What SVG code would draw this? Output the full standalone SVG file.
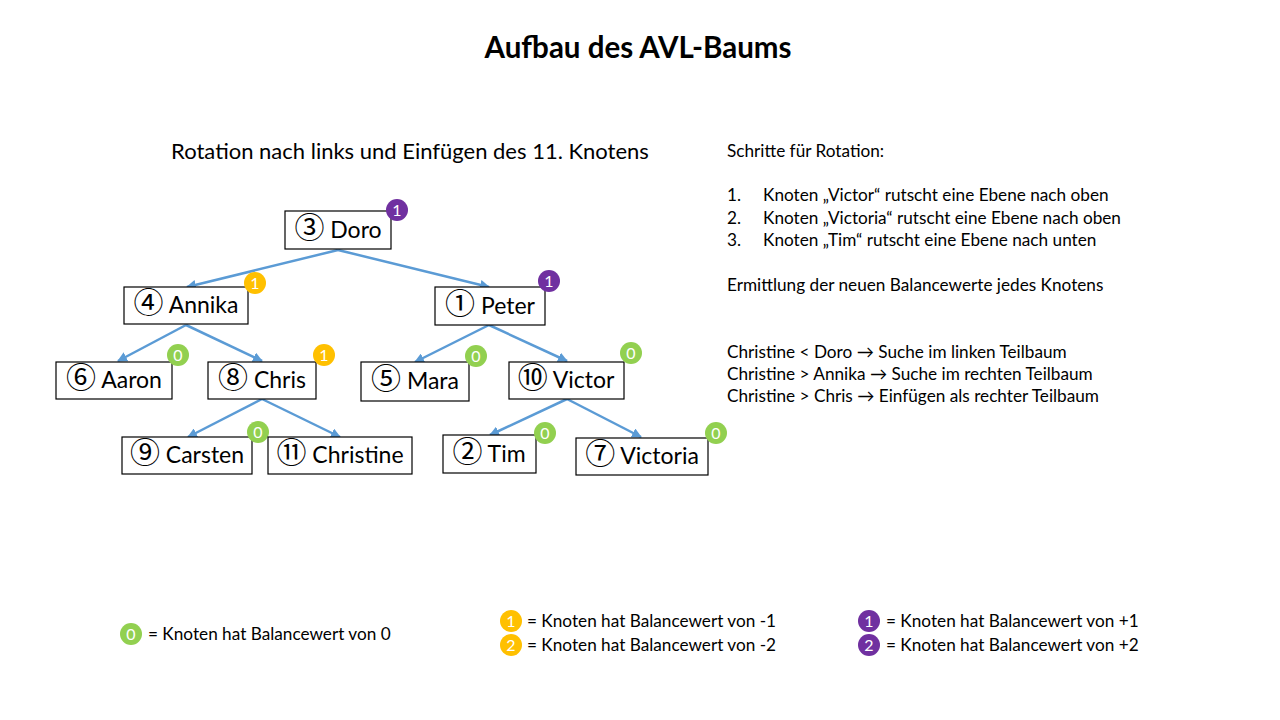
<svg xmlns="http://www.w3.org/2000/svg" width="1280" height="720" viewBox="0 0 1280 720">
  <defs>
    <marker id="arrow" viewBox="0 0 10 10" refX="9" refY="5" markerWidth="4" markerHeight="4" orient="auto" markerUnits="strokeWidth">
      <path d="M0,0 L10,5 L0,10 z" fill="#5B9BD5"/>
    </marker>
    <style>
      text { font-family: Lato, "Noto Sans CJK SC", sans-serif; fill: #000; }
      .title { font-size: 29.5px; font-weight: bold; text-anchor: middle; }
      .sub { font-size: 22px; text-anchor: middle; }
      .box { fill: #fff; stroke: #000; stroke-width: 1.2; }
      .lbl { font-size: 23px; text-anchor: middle; }
      .cd { font-family: "Noto Sans CJK SC", sans-serif; font-size: 30px; }
      .note { font-size: 17.2px; }
      .edge { stroke: #5B9BD5; stroke-width: 2.5; fill: none; marker-end: url(#arrow); }
      .b0 { fill: #92D050; }
      .b1 { fill: #FFC000; }
      .b2 { fill: #7030A0; }
      .bt { font-size: 16px; fill: #fff; text-anchor: middle; }
    </style>
  </defs>

  <rect width="1280" height="720" fill="#fff"/>

  <text class="title" x="638" y="58">Aufbau des AVL-Baums</text>
  <text class="sub" x="410" y="159">Rotation nach links und Einfügen des 11. Knotens</text>

  <!-- connectors -->
  <g id="connectors">
    <line class="edge" x1="338" y1="250" x2="187" y2="287"/>
    <line class="edge" x1="338" y1="250" x2="489" y2="287"/>
    <line class="edge" x1="186" y1="325" x2="118" y2="361"/>
    <line class="edge" x1="186" y1="325" x2="262" y2="361"/>
    <line class="edge" x1="489" y1="325" x2="415" y2="362"/>
    <line class="edge" x1="489" y1="325" x2="567" y2="361"/>
    <line class="edge" x1="262" y1="399" x2="188" y2="437"/>
    <line class="edge" x1="262" y1="399" x2="340" y2="437"/>
    <line class="edge" x1="567" y1="399" x2="490" y2="435"/>
    <line class="edge" x1="567" y1="399" x2="641" y2="437"/>
  </g>

  <!-- nodes -->
  <g id="node-doro">
    <rect class="box" x="285" y="211" width="106" height="38"/>
    <text class="lbl" x="338" y="238"><tspan class="cd">③</tspan> Doro</text>
    <circle class="b2" cx="397" cy="210" r="11"/>
    <text class="bt" x="397" y="215.5">1</text>
  </g>
  <g id="node-annika">
    <rect class="box" x="124" y="287" width="124" height="37"/>
    <text class="lbl" x="186" y="313"><tspan class="cd">④</tspan> Annika</text>
    <circle class="b1" cx="255" cy="283" r="11"/>
    <text class="bt" x="255" y="288.5">1</text>
  </g>
  <g id="node-peter">
    <rect class="box" x="435" y="287" width="110" height="38"/>
    <text class="lbl" x="490" y="314"><tspan class="cd">①</tspan> Peter</text>
    <circle class="b2" cx="549" cy="281" r="11"/>
    <text class="bt" x="549" y="286.5">1</text>
  </g>
  <g id="node-aaron">
    <rect class="box" x="56" y="362" width="116" height="37"/>
    <text class="lbl" x="114" y="388"><tspan class="cd">⑥</tspan> Aaron</text>
    <circle class="b0" cx="178" cy="355" r="11"/>
    <text class="bt" x="178" y="360.5">0</text>
  </g>
  <g id="node-chris">
    <rect class="box" x="208" y="362" width="108" height="37"/>
    <text class="lbl" x="262" y="388"><tspan class="cd">⑧</tspan> Chris</text>
    <circle class="b1" cx="324" cy="355" r="11"/>
    <text class="bt" x="324" y="360.5">1</text>
  </g>
  <g id="node-mara">
    <rect class="box" x="361" y="362" width="108" height="39"/>
    <text class="lbl" x="415" y="389"><tspan class="cd">⑤</tspan> Mara</text>
    <circle class="b0" cx="476" cy="356" r="11"/>
    <text class="bt" x="476" y="361.5">0</text>
  </g>
  <g id="node-victor">
    <rect class="box" x="509" y="362" width="115" height="37"/>
    <text class="lbl" x="566" y="388"><tspan class="cd">⑩</tspan> Victor</text>
    <circle class="b0" cx="631" cy="353" r="11"/>
    <text class="bt" x="631" y="358.5">0</text>
  </g>
  <g id="node-carsten">
    <rect class="box" x="122" y="437" width="130" height="37"/>
    <text class="lbl" x="187" y="463"><tspan class="cd">⑨</tspan> Carsten</text>
    <circle class="b0" cx="258" cy="432" r="11"/>
    <text class="bt" x="258" y="437.5">0</text>
  </g>
  <g id="node-christine">
    <rect class="box" x="268" y="437" width="144" height="37"/>
    <text class="lbl" x="340" y="463"><tspan class="cd">⑪</tspan> Christine</text>
  </g>
  <g id="node-tim">
    <rect class="box" x="443" y="435" width="93" height="38"/>
    <text class="lbl" x="489" y="462"><tspan class="cd">②</tspan> Tim</text>
    <circle class="b0" cx="545" cy="433" r="11"/>
    <text class="bt" x="545" y="438.5">0</text>
  </g>
  <g id="node-victoria">
    <rect class="box" x="576" y="438" width="132" height="37"/>
    <text class="lbl" x="642" y="464"><tspan class="cd">⑦</tspan> Victoria</text>
    <circle class="b0" cx="716" cy="433" r="11"/>
    <text class="bt" x="716" y="438.5">0</text>
  </g>

  <!-- explanation -->
  <g id="steps">
    <text class="note" x="727" y="157">Schritte für Rotation:</text>
    <text class="note" x="727" y="201">1.</text>
    <text class="note" x="763" y="201">Knoten „Victor“ rutscht eine Ebene nach oben</text>
    <text class="note" x="727" y="224">2.</text>
    <text class="note" x="763" y="224">Knoten „Victoria“ rutscht eine Ebene nach oben</text>
    <text class="note" x="727" y="246">3.</text>
    <text class="note" x="763" y="246">Knoten „Tim“ rutscht eine Ebene nach unten</text>
    <text class="note" x="727" y="291">Ermittlung der neuen Balancewerte jedes Knotens</text>
    <text class="note" x="727" y="358">Christine &lt; Doro → Suche im linken Teilbaum</text>
    <text class="note" x="727" y="380">Christine &gt; Annika → Suche im rechten Teilbaum</text>
    <text class="note" x="727" y="402">Christine &gt; Chris → Einfügen als rechter Teilbaum</text>
  </g>

  <!-- legend -->
  <g id="legend">
    <circle class="b0" cx="131" cy="634" r="11"/>
    <text class="bt" x="131" y="639.5">0</text>
    <text class="note" x="148" y="640">= Knoten hat Balancewert von 0</text>
    <circle class="b1" cx="511" cy="621" r="11"/>
    <text class="bt" x="511" y="626.5">1</text>
    <text class="note" x="527" y="627">= Knoten hat Balancewert von -1</text>
    <circle class="b1" cx="511" cy="645" r="11"/>
    <text class="bt" x="511" y="650.5">2</text>
    <text class="note" x="527" y="651">= Knoten hat Balancewert von -2</text>
    <circle class="b2" cx="869" cy="621" r="11"/>
    <text class="bt" x="869" y="626.5">1</text>
    <text class="note" x="886" y="627">= Knoten hat Balancewert von +1</text>
    <circle class="b2" cx="869" cy="645" r="11"/>
    <text class="bt" x="869" y="650.5">2</text>
    <text class="note" x="886" y="651">= Knoten hat Balancewert von +2</text>
  </g>
</svg>
